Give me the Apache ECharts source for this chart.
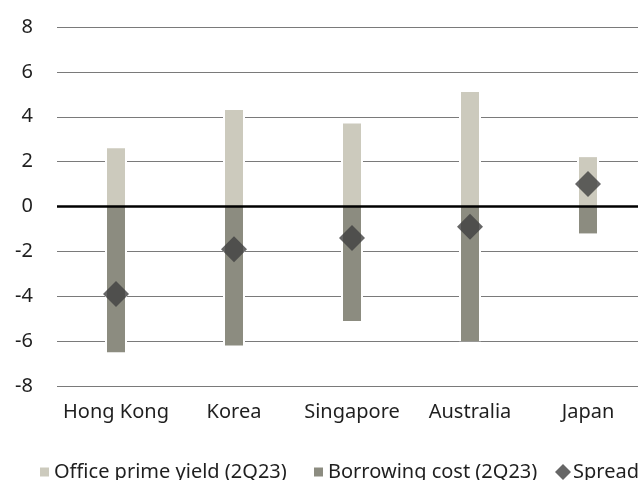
<!DOCTYPE html>
<html>
<head>
<meta charset="utf-8">
<script src="https://cdn.jsdelivr.net/npm/echarts@6/dist/echarts.min.js"></script>
<style>
  html, body { margin: 0; padding: 0; background: #fff; }
  #chart { width: 638px; height: 480px; overflow: hidden; }
</style>
</head>
<body>
<div id="chart"></div>
<script>
// Office prime yield vs borrowing cost by market, 2Q23 (%)
const categories = ['Hong Kong', 'Korea', 'Singapore', 'Australia', 'Japan'];
const primeYield = [2.6, 4.3, 3.7, 5.1, 2.2];
const borrowingCost = [-6.5, -6.2, -5.1, -6.0, -1.2];
const spread = [-3.9, -1.9, -1.4, -0.9, 1.0];
const yTicks = [-8, -6, -4, -2, 0, 2, 4, 6, 8];

const FONT = 'Noto Sans';
const TEXT = '#1f1f1f';
const LIGHT = '#cccabd';
const DARK = '#8c8c80';
const DIAMOND = '#404040';

const chart = echarts.init(document.getElementById('chart'), null, { renderer: 'canvas' });

const legendBase = {
  top: 462,
  padding: 0,
  selectedMode: false,
  textStyle: { fontFamily: FONT, fontSize: 20, lineHeight: 20, color: TEXT }
};

// white halo bars behind each range so the grid lines break around them
const haloBar = (values) => ({
  type: 'bar',
  xAxisIndex: 1,
  stack: 'halo',
  barWidth: 22,
  data: values,
  silent: true,
  itemStyle: { color: '#ffffff' },
  z: 1
});

chart.setOption({
  animation: false,
  backgroundColor: '#fff',
  // plot area runs a little past the right edge of the canvas
  grid: {
    left: 57, width: 590, top: 27, bottom: 94,
    containLabel: false,
    outerBoundsMode: 'none'
  },
  legend: [
    Object.assign({}, legendBase, {
      left: 40, icon: 'rect', itemWidth: 9, itemHeight: 9,
      data: ['Office prime yield (2Q23)']
    }),
    Object.assign({}, legendBase, {
      left: 314, icon: 'rect', itemWidth: 9, itemHeight: 9,
      data: ['Borrowing cost (2Q23)']
    }),
    Object.assign({}, legendBase, {
      left: 555, icon: 'diamond', itemWidth: 16, itemHeight: 16,
      textStyle: Object.assign({}, legendBase.textStyle, { padding: [0, 0, 0, -3] }),
      data: ['Spread']
    })
  ],
  xAxis: [
    {
      type: 'category',
      data: categories,
      axisLine: { show: false, onZero: false },
      axisTick: { show: false },
      axisLabel: { interval: 0, fontFamily: FONT, fontSize: 20, color: TEXT, margin: 16 }
    },
    {
      type: 'category',
      data: categories,
      show: false
    }
  ],
  yAxis: {
    type: 'value',
    min: yTicks[0],
    max: yTicks[yTicks.length - 1],
    interval: 2,
    axisLine: { show: false },
    axisTick: { show: false },
    axisLabel: { fontFamily: FONT, fontSize: 20, color: TEXT, margin: 24 },
    splitLine: { lineStyle: { color: '#7a7a7a', width: 1 } }
  },
  series: [
    haloBar(primeYield),
    haloBar(borrowingCost),
    {
      name: 'Office prime yield (2Q23)',
      type: 'bar',
      stack: 'range',
      barWidth: 18,
      data: primeYield,
      itemStyle: { color: LIGHT },
      z: 2
    },
    {
      name: 'Borrowing cost (2Q23)',
      type: 'bar',
      stack: 'range',
      barWidth: 18,
      data: borrowingCost,
      itemStyle: { color: DARK },
      z: 2,
      markLine: {
        silent: true,
        symbol: 'none',
        label: { show: false },
        lineStyle: { color: '#000', width: 2.5, type: 'solid' },
        data: [{ yAxis: 0 }]
      }
    },
    {
      name: 'Spread',
      type: 'scatter',
      symbol: 'diamond',
      symbolSize: 26,
      data: spread,
      itemStyle: { color: DIAMOND },
      z: 6
    }
  ]
});
</script>
</body>
</html>
